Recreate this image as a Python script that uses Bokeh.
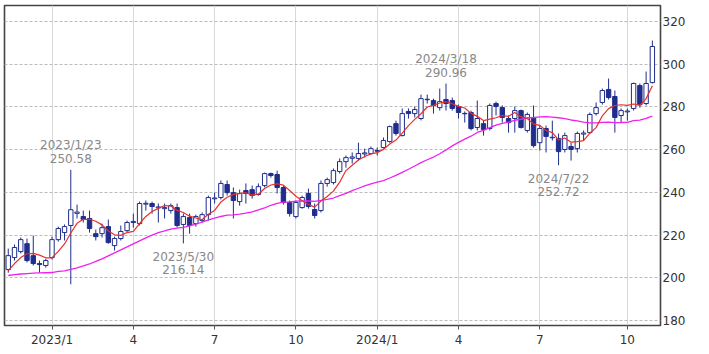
from bokeh.plotting import figure
from bokeh.models import ColumnDataSource, FixedTicker, Range1d
from bokeh.embed import file_html
from bokeh.resources import INLINE
from bokeh.core.properties import value

# ---- data (weekly candles, index 0 = first week of 2023) ----
week_index = list(range(-7, 97))
opens = [203.9, 209.5, 212.3, 216.0, 210.4, 206.7, 205.8,
         209.5, 217.9, 221.2, 224.5, 230.2, 228.7, 227.8, 220.7, 220.7, 224.0, 215.1, 218.4, 222.1,
         225.9, 225.4, 234.5, 234.8, 232.8, 232.4, 231.5, 232.9, 225.0, 228.2, 225.4, 226.8, 229.6,
         237.0, 237.6, 243.7, 239.9, 235.7, 240.9, 241.3, 239.0, 243.2, 248.8, 248.4, 242.3, 235.3,
         228.7, 232.9, 239.5, 232.0, 231.5, 244.2, 244.6, 249.8, 254.4, 256.0, 255.9, 258.0, 258.2,
         259.6, 261.0, 263.8, 272.2, 266.6, 277.9, 276.9, 274.6, 283.6, 283.0, 279.7, 283.5, 283.0,
         280.2, 277.0, 277.4, 270.4, 272.2, 269.9, 281.6, 279.7, 274.6, 274.6, 278.3, 269.0, 275.1,
         263.3, 269.9, 265.8, 265.2, 260.1, 261.5, 260.5, 267.3, 268.0, 276.9, 282.1, 288.2, 284.9,
         276.0, 277.7, 279.3, 290.0, 281.6, 291.4]
highs = [213.7, 215.6, 218.9, 218.4, 219.8, 208.1, 209.0,
         219.3, 224.0, 225.0, 250.58, 234.3, 231.5, 231.5, 222.6, 225.4, 227.3, 219.3, 224.5, 226.8,
         230.1, 235.7, 236.2, 235.7, 234.8, 234.8, 234.8, 234.8, 230.1, 230.1, 229.6, 230.6, 238.5,
         239.9, 245.6, 245.6, 242.3, 241.3, 244.2, 243.2, 244.2, 249.3, 249.3, 250.2, 243.2, 236.2,
         236.2, 238.5, 241.8, 234.8, 245.6, 246.9, 251.2, 255.9, 257.3, 258.7, 263.3, 260.5, 261.5,
         261.0, 265.7, 271.3, 273.6, 279.3, 279.3, 280.2, 285.8, 285.8, 283.9, 288.6, 290.96, 284.4,
         281.1, 277.9, 278.3, 283.0, 273.6, 281.6, 282.5, 280.7, 276.0, 280.2, 278.8, 277.4, 280.7,
         271.3, 271.3, 273.6, 267.6, 268.0, 263.3, 268.5, 269.0, 277.4, 282.1, 288.6, 293.3, 287.7,
         279.3, 279.3, 291.4, 291.0, 296.6, 311.1]
lows = [202.4, 208.1, 211.4, 207.2, 205.8, 202.4, 204.8,
        208.6, 217.0, 217.5, 197.0, 227.8, 225.9, 221.2, 217.5, 218.9, 216.0, 212.8, 217.5, 221.2,
        223.5, 224.5, 231.5, 230.1, 225.9, 227.8, 230.1, 223.5, 216.14, 220.7, 224.0, 225.9, 226.8,
        234.8, 236.7, 238.5, 227.8, 233.8, 234.8, 237.1, 238.5, 242.3, 246.9, 239.5, 234.3, 228.7,
        227.8, 232.4, 232.4, 227.8, 230.6, 242.7, 243.7, 248.8, 251.6, 253.5, 254.9, 256.3, 257.7,
        257.3, 260.5, 263.3, 266.6, 266.2, 274.6, 275.1, 273.7, 281.6, 276.9, 278.3, 278.3, 278.3,
        274.6, 272.7, 269.0, 269.0, 266.6, 269.0, 276.0, 272.7, 268.0, 268.0, 269.9, 268.0, 261.0,
        259.6, 258.7, 264.3, 252.72, 258.7, 254.9, 258.7, 264.3, 267.6, 276.0, 281.1, 283.5, 268.0,
        272.7, 273.6, 278.3, 279.7, 280.7, 291.0]
closes = [210.4, 214.2, 217.9, 208.1, 206.7, 206.2, 208.1,
          217.9, 223.1, 224.0, 231.9, 230.8, 227.3, 223.1, 219.3, 223.5, 216.5, 218.4, 221.7, 225.9,
          226.4, 234.8, 234.9, 233.4, 233.2, 232.9, 233.8, 224.5, 228.7, 224.5, 228.7, 229.6, 237.6,
          237.4, 244.2, 239.9, 236.2, 239.5, 239.5, 238.5, 242.7, 248.8, 247.9, 242.3, 235.3, 230.1,
          235.3, 237.6, 233.4, 229.2, 244.2, 246.0, 250.2, 254.4, 256.3, 256.6, 258.2, 258.5, 260.5,
          259.3, 264.3, 270.8, 267.6, 276.9, 276.9, 278.8, 283.9, 283.4, 280.7, 282.5, 281.6, 279.3,
          277.4, 276.8, 269.9, 274.6, 269.4, 280.7, 280.2, 275.1, 272.7, 278.3, 270.4, 276.5, 261.9,
          269.9, 266.2, 265.6, 259.1, 266.6, 260.1, 267.6, 267.8, 276.5, 279.7, 287.7, 284.4, 275.1,
          278.3, 278.1, 291.0, 281.1, 291.0, 308.3]

# moving-average values read off the chart where earlier weeks are not shown
ma_short_weeks = 5
ma_long_weeks = 26
ma_short_lead = [203.4, 206.7, 209.5, 211.3]
ma_long_lead = [201.1, 201.5, 201.8, 202.0, 202.2, 202.3, 202.4, 202.5, 203.0, 203.3, 204.0,
                204.7, 205.6, 206.5, 207.7, 208.9, 210.3, 211.7, 213.1, 214.5, 215.9, 217.3,
                218.7, 220.0, 221.2]

tick_weeks = [0, 13, 26, 39, 52, 65, 78, 92]
tick_labels = ["2023/1", "4", "7", "10", "2024/1", "4", "7", "10"]
y_ticks = [180, 200, 220, 240, 260, 280, 300, 320]

ann_week = [3, 21, 63, 81]
ann_date = ["2023/1/23", "2023/5/30", "2024/3/18", "2024/7/22"]
ann_price = [250.58, 216.14, 290.96, 252.72]
ann_side = ["high", "low", "high", "low"]

# ---- derived ----
def moving_avg(vals, n, lead):
    out = list(lead)
    for i in range(len(lead), len(vals)):
        out.append(sum(vals[i - n + 1:i + 1]) / n)
    return out

ma_short = moving_avg(closes, ma_short_weeks, ma_short_lead)
ma_long = moving_avg(closes, ma_long_weeks, ma_long_lead)

NAVY = "#1f2d8c"
up = [c >= o for o, c in zip(opens, closes)]
src = ColumnDataSource(dict(
    x=week_index, o=opens, h=highs, l=lows, c=closes,
    top=[max(o, c) for o, c in zip(opens, closes)],
    bot=[min(o, c) for o, c in zip(opens, closes)],
    fill=["white" if u else NAVY for u in up],
))

p = figure(width=709, height=354, output_backend="svg", toolbar_location=None,
           x_range=Range1d(-7.6, 97.3), y_range=Range1d(177.7, 327.5),
           y_axis_location="right", min_border_left=4, min_border_top=5,
           min_border_right=49, min_border_bottom=29)
p.background_fill_color = "white"
p.border_fill_color = "white"
p.outline_line_color = "#444444"
p.outline_line_width = 1.6

p.xgrid.grid_line_color = "#d8d8d8"
p.xgrid.grid_line_width = 1
p.ygrid.grid_line_color = "#bbbbbb"
p.ygrid.grid_line_dash = "3 2"

p.xaxis.ticker = FixedTicker(ticks=tick_weeks)
p.xaxis.major_label_overrides = {t: l for t, l in zip(tick_weeks, tick_labels)}
p.yaxis.ticker = FixedTicker(ticks=y_ticks)
for ax in (p.xaxis[0], p.yaxis[0]):
    ax.axis_line_color = None
    ax.minor_tick_line_color = None
    ax.major_label_text_font = "DejaVu Sans"
    ax.major_label_text_font_size = "12px"
    ax.major_label_text_color = "#333333"
p.xaxis.major_tick_in = 0
p.xaxis.major_tick_out = 4
p.xaxis.major_tick_line_color = "#555555"
p.xaxis.major_label_standoff = 3
p.yaxis.major_tick_in = 0
p.yaxis.major_tick_out = 0
p.yaxis.major_label_standoff = 2

p.segment(x0="x", y0="l", x1="x", y1="h", source=src, line_color=NAVY, line_width=1)
p.vbar(x="x", top="top", bottom="bot", width=0.7, source=src,
       fill_color="fill", line_color=NAVY, line_width=1)

p.line(week_index, ma_long, line_color="#ee22ee", line_width=1.3)
p.line(week_index, ma_short, line_color="#e8302a", line_width=1.2)

for wk, d, pr, side in zip(ann_week, ann_date, ann_price, ann_side):
    if side == "high":
        offs = (-24.5, -11)
    else:
        offs = (13.5, 26)
    for txt, off in zip((d, f"{pr:.2f}"), offs):
        p.text(x=[wk], y=[pr], text=[txt], y_offset=off, text_align="center",
               text_baseline="middle", text_font=value("DejaVu Sans"),
               text_font_size="12px", text_color="#888888")

open("out.html", "w").write(file_html(p, INLINE))
